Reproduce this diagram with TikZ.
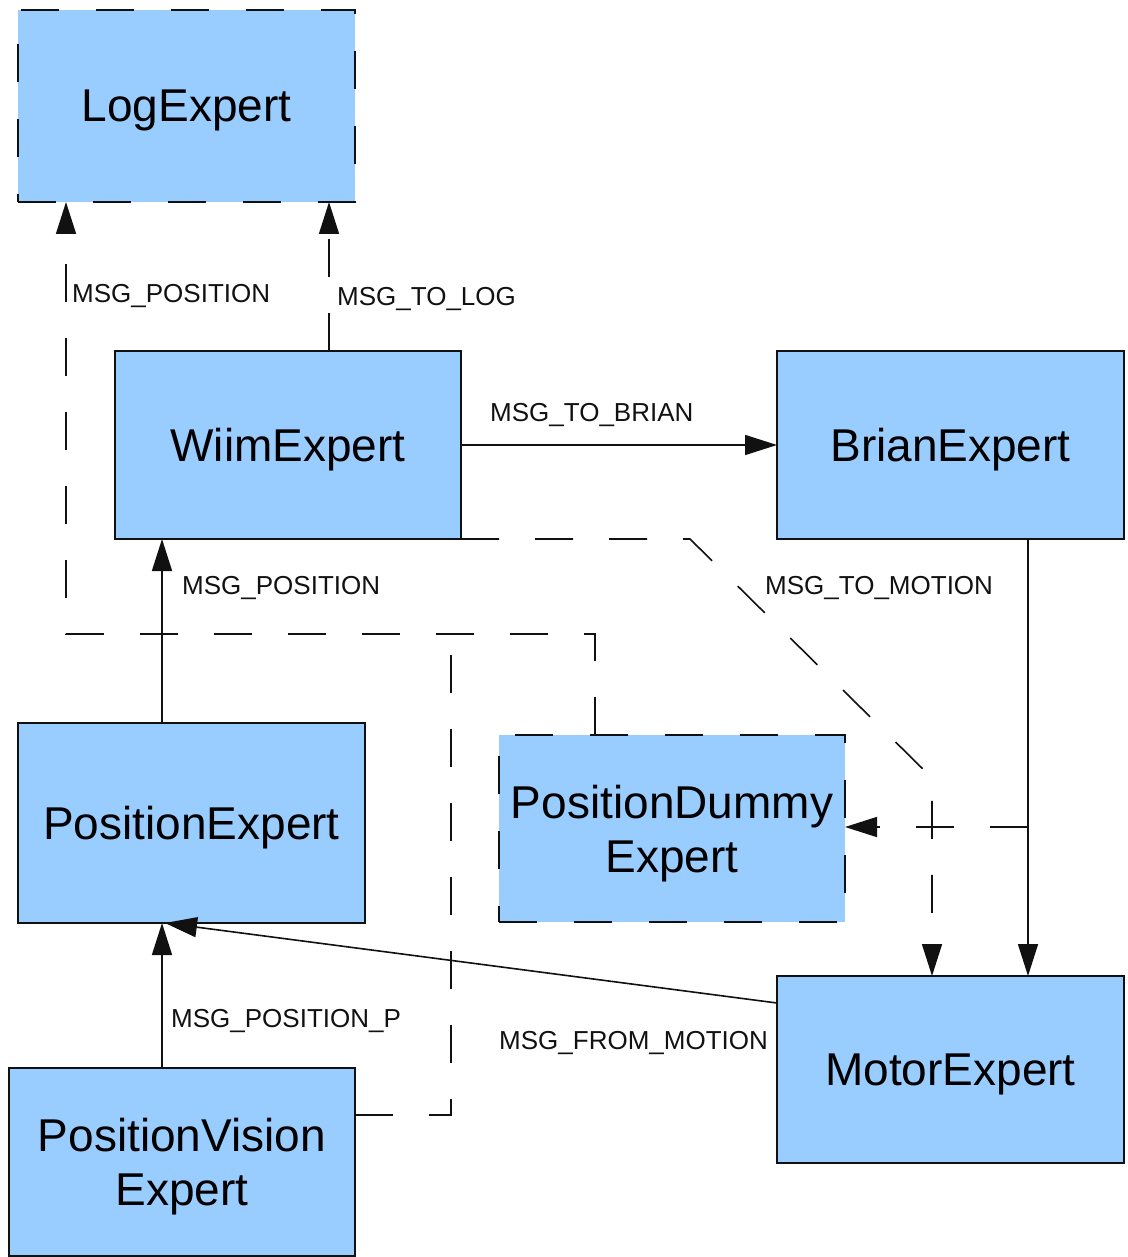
\documentclass[tikz,border=0pt]{standalone}
\usepackage{fontspec}
\setmainfont{Liberation Sans}
\usetikzlibrary{arrows.meta}
\definecolor{boxblue}{HTML}{99CCFF}
\definecolor{edge}{HTML}{111111}
\begin{document}
\begin{tikzpicture}[x=1pt,y=-1pt,
  expert/.style={draw=edge, fill=boxblue, line width=1.6pt, inner sep=0pt, outer sep=0pt,
    align=center, text depth=0pt, font=\fontsize{46}{54}\selectfont},
  dashbox/.style={expert, dash pattern=on 38pt off 37pt},
  msg/.style={draw=edge, line width=1.6pt, -{Triangle[length=32pt,width=20pt]}},
  dashmsg/.style={msg, dash pattern=on 38pt off 36pt},
  dashline/.style={draw=edge, line width=1.6pt, dash pattern=on 38pt off 36pt},
  lbl/.style={inner sep=0pt, text=edge, font=\fontsize{26}{30}\selectfont, anchor=base west}
]
\useasboundingbox (0,0) rectangle (1127,1257);

% experts
\node[dashbox, minimum width=337pt, minimum height=192pt] (log)    at (186.5,106)   {LogExpert};
\node[expert,  minimum width=346pt, minimum height=188pt] (wiim)   at (288,445)     {WiimExpert};
\node[expert,  minimum width=347pt, minimum height=188pt] (brian)  at (950.5,445)   {BrianExpert};
\node[expert,  minimum width=347pt, minimum height=200pt] (pos)    at (191.5,823)   {PositionExpert};
\node[dashbox, minimum width=346pt, minimum height=187pt] (dummy)  at (672,828.5)   {PositionDummy\\Expert};
\node[expert,  minimum width=346pt, minimum height=188pt] (vision) at (182,1162)    {PositionVision\\Expert};
\node[expert,  minimum width=347pt, minimum height=187pt] (motor)  at (950.5,1069.5){MotorExpert};

% routing points
\coordinate (toLog)   at (329,0);
\coordinate (dumUp)   at (595,634);
\coordinate (posLog)  at (66,634);
\coordinate (visUp)   at (451,634);
\coordinate (visOut)  at (451,1115);
\coordinate (motBend) at (690,539);
\coordinate (motDiag) at (932,778);
\coordinate (brDown)  at (1028,0);
\coordinate (brSplit) at (1028,827);
\coordinate (posCol)  at (162,0);
\coordinate (fromMot) at (165,0);
\coordinate (motOut)  at (0,1003);

% messages to the log
\draw[dashmsg] (wiim.north -| toLog) -- (log.south -| toLog);
\draw[dashmsg] (dummy.north -| dumUp) -- (dumUp) -- (posLog) -- (log.south -| posLog);
\draw[dashline] (vision.east |- visOut) -- (visOut) -- (visUp);

% main message flow
\draw[msg] (wiim.east) -- (brian.west);
\draw[dashmsg] (wiim.south east) -- (motBend) -- (motDiag) -- (motor.north -| motDiag);
\draw[msg] (brian.south -| brDown) -- (motor.north -| brDown);
\draw[dashmsg] (brSplit) -- (dummy.east |- brSplit);
\draw[msg] (pos.north -| posCol) -- (wiim.south -| posCol);
\draw[msg] (vision.north -| posCol) -- (pos.south -| posCol);
\draw[msg] (motor.west |- motOut) -- (pos.south -| fromMot);

% message labels
\node[lbl] (lPosLog)  at (72,302)   {MSG\_POSITION};
\node[lbl] (lToLog)   at (337,305)  {MSG\_TO\_LOG};
\node[lbl] (lToBrian) at (490,421)  {MSG\_TO\_BRIAN};
\node[lbl] (lPos)     at (182,594)  {MSG\_POSITION};
\node[lbl] (lToMot)   at (765,594)  {MSG\_TO\_MOTION};
\node[lbl] (lPosP)    at (171,1027) {MSG\_POSITION\_P};
\node[lbl] (lFromMot) at (499,1049) {MSG\_FROM\_MOTION};
\end{tikzpicture}
\end{document}
